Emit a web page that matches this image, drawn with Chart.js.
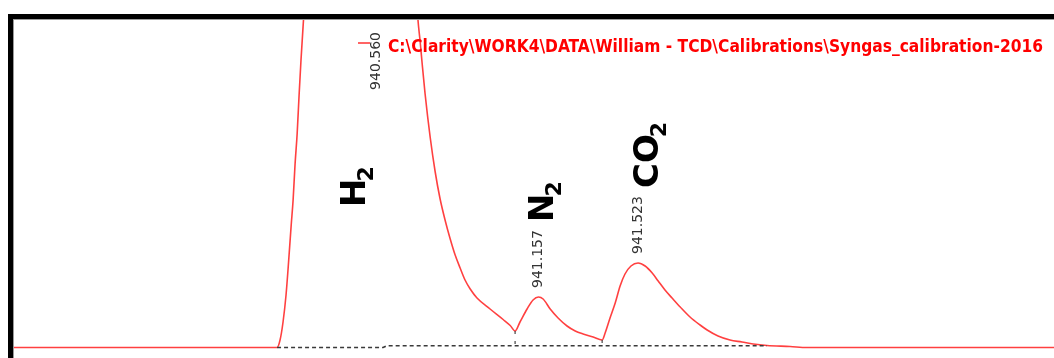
<!DOCTYPE html>
<html>
<head>
<meta charset="utf-8">
<script src="https://cdn.jsdelivr.net/npm/chart.js@4/dist/chart.umd.min.js"></script>
<style>
  html, body { margin: 0; padding: 0; background: #fff; width: 1054px; height: 358px; overflow: hidden; }
  .frame-black { position: absolute; background: #000; }
  .frame-gray { position: absolute; background: #9a9a9a; }
  #wrap { position: absolute; left: 14px; top: 20px; width: 1040px; height: 338px; }
</style>
</head>
<body>
<div class="frame-black" style="left:8px;top:14px;width:1046px;height:5px"></div>
<div class="frame-black" style="left:8px;top:14px;width:5px;height:344px"></div>
<div class="frame-gray" style="left:13px;top:19px;width:1041px;height:1px"></div>
<div class="frame-gray" style="left:13px;top:19px;width:1px;height:339px"></div>
<div id="wrap"><canvas id="chart"></canvas></div>
<script>
// Detector trace: retention time vs. TCD signal (mV)
const retentionTime = [
  939.229, 940.196, 940.207, 940.218, 940.229, 940.237, 940.248, 940.255, 940.262, 940.270,
  940.277, 940.284, 940.292, 940.303, 940.336, 940.409, 940.483, 940.560, 940.630, 940.678,
  940.700, 940.714, 940.722, 940.729, 940.740, 940.759, 940.777, 940.795, 940.814, 940.832,
  940.850, 940.869, 940.887, 940.906, 940.931, 940.979, 941.027, 941.053, 941.071, 941.089,
  941.115, 941.137, 941.157, 941.174, 941.200, 941.229, 941.262, 941.292, 941.321, 941.358,
  941.391, 941.402, 941.420, 941.439, 941.457, 941.475, 941.497, 941.523, 941.549, 941.575,
  941.597, 941.622, 941.648, 941.678, 941.714, 941.751, 941.777, 941.817, 941.861, 941.905,
  941.946, 941.997, 942.082, 942.144, 943.052
];
const signal = [
  0.00, 0.00, 0.75, 2.55, 5.25, 8.05, 12.25, 14.75, 18.25, 21.45,
  25.25, 28.75, 32.25, 36.75, 46.75, 58.75, 63.25, 64.75, 61.75, 49.75,
  38.75, 32.75, 30.60, 28.50, 25.40, 21.00, 17.60, 14.90, 12.70, 10.90,
  9.30, 7.95, 6.75, 5.85, 4.95, 3.85, 2.80, 2.20, 1.65, 2.55,
  3.85, 4.75, 5.05, 4.85, 3.85, 2.95, 2.15, 1.65, 1.35, 1.05,
  0.75, 1.45, 2.95, 4.45, 6.15, 7.35, 8.15, 8.45, 8.15, 7.45,
  6.65, 5.75, 4.95, 4.05, 3.05, 2.25, 1.75, 1.15, 0.75, 0.55,
  0.35, 0.20, 0.10, 0.00, 0.00
];

// Integration baseline
const baselineTime = [940.196, 940.586, 940.600, 941.997];
const baselineSignal = [0.00, 0.00, 0.18, 0.18];

// Peak boundaries between neighbouring peaks
const boundaryTime = [941.071, 941.391];

// Peak apex retention times (labelled above each peak)
const peakTime = [940.560, 941.157, 941.523];

// Compound names and where they are written
const compoundName = ['H', 'N', 'CO'];
const compoundSub = ['2', '2', '2'];
const compoundTime = [940.520, 941.211, 941.597];
const compoundSignal = [14.05, 12.55, 15.95];

const traceName = 'C:\\Clarity\\WORK4\\DATA\\William - TCD\\Calibrations\\Syngas_calibration-2016';

const xMin = 939.229, xMax = 943.052;
const yMin = -1.05, yMax = 32.75;

const traceData = retentionTime.map((t, i) => ({ x: t, y: signal[i] }));
const baseData = baselineTime.map((t, i) => ({ x: t, y: baselineSignal[i] }));
const signalAt = t => signal[retentionTime.indexOf(t)];

const boundarySets = boundaryTime.map(t => ({
  data: [{ x: t, y: signalAt(t) }, { x: t, y: baselineSignal[baselineSignal.length - 1] }],
  borderColor: '#444', borderWidth: 1.2, borderDash: [3, 7], pointRadius: 0, fill: false
}));

const annotate = {
  id: 'annotate',
  afterDatasetsDraw(chart) {
    const { ctx, chartArea, scales } = chart;
    const xs = scales.x, ys = scales.y;

    // Retention-time labels at peak apexes
    ctx.save();
    ctx.fillStyle = '#333';
    ctx.font = '14px "DejaVu Sans"';
    ctx.textBaseline = 'middle';
    peakTime.forEach(t => {
      const px = xs.getPixelForValue(t);
      const py = ys.getPixelForValue(signalAt(t));
      ctx.save();
      if (py - 9 < chartArea.top + 12) {
        ctx.translate(px, chartArea.top + 12);
        ctx.rotate(-Math.PI / 2);
        ctx.textAlign = 'right';
      } else {
        ctx.translate(px, py - 9);
        ctx.rotate(-Math.PI / 2);
        ctx.textAlign = 'left';
      }
      ctx.fillText(t.toFixed(3), 0, 0);
      ctx.restore();
    });
    ctx.restore();

    // Compound names with subscripts
    ctx.save();
    ctx.fillStyle = '#000';
    ctx.textBaseline = 'alphabetic';
    ctx.textAlign = 'left';
    compoundName.forEach((name, i) => {
      const px = xs.getPixelForValue(compoundTime[i]);
      const py = ys.getPixelForValue(compoundSignal[i]);
      ctx.save();
      ctx.translate(px, py);
      ctx.rotate(-Math.PI / 2);
      ctx.font = 'bold 34px "DejaVu Sans"';
      ctx.fillText(name, 0, 0);
      const w = ctx.measureText(name).width;
      ctx.font = '600 22px "DejaVu Sans"';
      ctx.fillText(compoundSub[i], w - 3, 8);
      ctx.restore();
    });
    ctx.restore();

    // Trace legend
    ctx.save();
    ctx.font = 'bold 17.4px "DejaVu Sans Condensed", "DejaVu Sans"';
    ctx.fillStyle = '#ff0000';
    ctx.textAlign = 'right';
    ctx.textBaseline = 'alphabetic';
    const right = chartArea.right - 11;
    const maxW = 655;
    const w = Math.min(ctx.measureText(traceName).width, maxW);
    ctx.fillText(traceName, right, 32, maxW);
    const left = right - w;
    ctx.strokeStyle = '#ff3030';
    ctx.lineWidth = 1.5;
    ctx.beginPath();
    ctx.moveTo(left - 30, 23);
    ctx.lineTo(left - 18, 23);
    ctx.stroke();
    ctx.restore();
  }
};

new Chart(document.getElementById('chart'), {
  type: 'line',
  data: {
    datasets: [
      {
        data: baseData,
        borderColor: '#3a3a3a', borderWidth: 1.6, borderDash: [4, 3],
        pointRadius: 0, fill: false
      },
      ...boundarySets,
      {
        label: traceName,
        data: traceData,
        borderColor: '#ff4040', borderWidth: 1.6,
        pointRadius: 0, fill: false,
        cubicInterpolationMode: 'monotone'
      }
    ]
  },
  options: {
    responsive: true,
    maintainAspectRatio: false,
    animation: false,
    layout: { padding: 0 },
    scales: {
      x: { type: 'linear', min: xMin, max: xMax, display: false },
      y: { type: 'linear', min: yMin, max: yMax, display: false }
    },
    plugins: { legend: { display: false }, tooltip: { enabled: false } }
  },
  plugins: [annotate]
});
</script>
</body>
</html>
